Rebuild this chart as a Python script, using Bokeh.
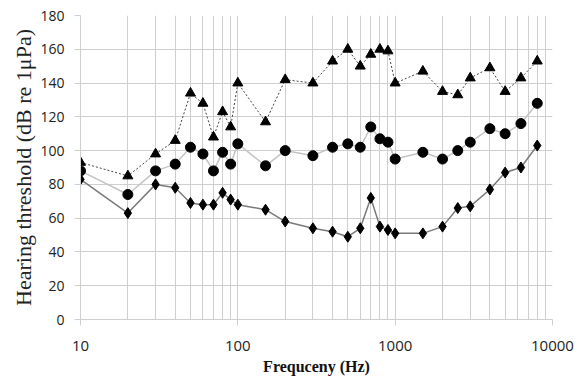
from bokeh.plotting import figure
from bokeh.models import FixedTicker, Range1d, Title, BasicTickFormatter
from bokeh.embed import file_html
from bokeh.resources import INLINE

freq = [10, 20, 30, 40, 50, 60, 70, 80, 90, 100, 150, 200, 300, 400, 500, 600,
        700, 800, 900, 1000, 1500, 2000, 2500, 3000, 4000, 5000, 6300, 8000]
tri = [93, 85, 98, 106, 134, 128, 108, 123, 114, 140, 117, 142, 140, 153, 160, 150,
       157, 160, 159, 140, 147, 135, 133, 143, 149, 135, 143, 153]
circ = [88, 74, 88, 92, 102, 98, 88, 99, 92, 104, 91, 100, 97, 102, 104, 102,
        114, 107, 105, 95, 99, 95, 100, 105, 113, 110, 116, 128]
diam = [83, 63, 80, 78, 69, 68, 68, 75, 71, 68, 65, 58, 54, 52, 49, 54,
        72, 55, 53, 51, 51, 55, 66, 67, 77, 87, 90, 103]

x_major = [10, 100, 1000, 10000]
x_minor = [m * d for d in (10, 100, 1000) for m in range(2, 10)]
y_ticks = list(range(0, 181, 20))

p = figure(width=586, height=378, x_axis_type="log", output_backend="svg",
           toolbar_location=None, x_range=Range1d(10, 10000), y_range=Range1d(0, 180),
           min_border_left=80, min_border_right=34, min_border_top=15,
           min_border_bottom=59)
p.outline_line_color = None
p.background_fill_color = "white"

grid_col = "#cfcfcf"
p.xaxis.ticker = FixedTicker(ticks=x_major, minor_ticks=x_minor)
p.xaxis.formatter = BasicTickFormatter(use_scientific=False)
p.yaxis.ticker = FixedTicker(ticks=y_ticks)
p.xgrid.grid_line_color = grid_col
p.xgrid.minor_grid_line_color = grid_col
p.ygrid.grid_line_color = grid_col
p.xgrid.grid_line_width = 1
p.ygrid.grid_line_width = 1

for ax in (p.xaxis, p.yaxis):
    ax.axis_line_color = grid_col
    ax.major_tick_line_color = grid_col
    ax.minor_tick_line_color = None
    ax.major_tick_in = 0
    ax.major_tick_out = 6
    ax.major_label_text_font = "Open Sans"
    ax.major_label_text_color = "#222222"

p.xaxis.major_label_text_font_size = "15px"
p.yaxis.major_label_text_font_size = "14px"
p.xaxis.major_label_standoff = 15
p.yaxis.major_label_standoff = 10

p.add_layout(Title(text="Frequceny (Hz)", align="center", offset=-14, standoff=4,
                   text_font="Liberation Serif", text_font_size="16px",
                   text_font_style="bold", text_color="#111111"), "below")
p.add_layout(Title(text="Hearing threshold (dB re 1\u03bcPa)", align="center", offset=-6,
                   standoff=4,
                   text_font="Liberation Serif", text_font_size="22px",
                   text_font_style="normal", text_color="#222222"), "left")

p.line(freq, circ, line_color="#c4c4c4", line_width=1.5)
p.line(freq, diam, line_color="#7a7a7a", line_width=1.5)
p.line(freq, tri, line_color="#444444", line_width=1, line_dash="2 2")

p.scatter(freq, circ, marker="circle", size=10, fill_color="black", line_color="black")
p.scatter(freq, diam, marker="diamond", size=11, fill_color="black", line_color="black")
p.scatter(freq, tri, marker="triangle", size=10, fill_color="black", line_color="black")

open("out.html", "w").write(file_html(p, INLINE))
